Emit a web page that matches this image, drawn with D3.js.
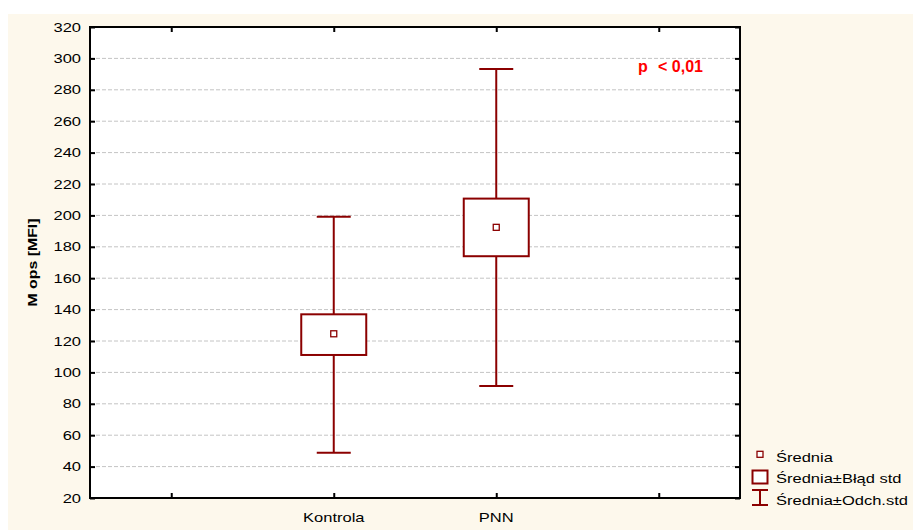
<!DOCTYPE html>
<html>
<head>
<meta charset="utf-8">
<script src="https://cdn.jsdelivr.net/npm/d3@7"></script>
<style>
  html, body { margin: 0; padding: 0; background: #ffffff; }
  svg { display: block; }
  text { font-family: Arial, "Liberation Sans", sans-serif; }
</style>
</head>
<body>
<svg id="chart" width="913" height="530"></svg>
<script>
// ---- data ----
const categories = ["Kontrola", "PNN"];
const xSlots = ["", "Kontrola", "PNN", " "];
const means = [124.6, 192.4];
const seLow = [111.1, 174.0];
const seHigh = [137.0, 210.7];
const sdLow = [48.9, 91.3];
const sdHigh = [199.2, 293.2];
const yTicks = [20, 40, 60, 80, 100, 120, 140, 160, 180, 200, 220, 240, 260, 280, 300, 320];
const yLabel = "M ops [MFI]";
const legendLabels = ["Średnia", "Średnia±Błąd std", "Średnia±Odch.std"];
const pText = ["p", "< 0,01"];

// ---- layout ----
const W = 913, H = 530;
const plot = { left: 90, right: 740, top: 27, bottom: 498 };
const dark = "#8b0000";
const SX = 1.27; // horizontal stretch of the original font

const svg = d3.select("#chart");

// backgrounds
svg.append("rect").attr("x", 0).attr("y", 0).attr("width", W).attr("height", H).attr("fill", "#ffffff");
svg.append("rect").attr("x", 8).attr("y", 14).attr("width", W - 8).attr("height", H - 14).attr("fill", "#fdf8ec");
svg.append("rect").attr("x", plot.left).attr("y", plot.top)
  .attr("width", plot.right - plot.left).attr("height", plot.bottom - plot.top).attr("fill", "#ffffff");

const x = d3.scalePoint().domain(xSlots).range([plot.left, plot.right]).padding(0.5);
const y = d3.scaleLinear().domain([20, 320]).range([plot.bottom, plot.top]);

function sText(parent, px, py, str, anchor, size, weight, fill, sx) {
  const g = parent.append("g").attr("transform", `translate(${px},${py}) scale(${sx || SX},1)`);
  return g.append("text").attr("x", 0).attr("y", 0)
    .attr("text-anchor", anchor).attr("font-size", size)
    .attr("font-weight", weight || "normal").attr("fill", fill || "#000").text(str);
}

// grid
svg.append("g").selectAll("line").data(yTicks.filter(v => v > 20 && v < 320)).join("line")
  .attr("x1", plot.left).attr("x2", plot.right)
  .attr("y1", d => y(d)).attr("y2", d => y(d))
  .attr("stroke", "#c4c4c4").attr("stroke-width", 1).attr("stroke-dasharray", "4,2");

// axes via d3 (inward ticks)
const tickLen = 5;
const axL = svg.append("g").attr("transform", `translate(${plot.left},0)`)
  .call(d3.axisLeft(y).tickValues(yTicks).tickSize(-tickLen).tickFormat(""));
const axR = svg.append("g").attr("transform", `translate(${plot.right},0)`)
  .call(d3.axisRight(y).tickValues(yTicks).tickSize(-tickLen).tickFormat(""));
const axB = svg.append("g").attr("transform", `translate(0,${plot.bottom})`)
  .call(d3.axisBottom(x).tickSize(-tickLen).tickFormat(""));
const axT = svg.append("g").attr("transform", `translate(0,${plot.top})`)
  .call(d3.axisTop(x).tickSize(-tickLen).tickFormat(""));
[axL, axR, axB, axT].forEach(a => {
  a.select(".domain").remove();
  a.selectAll(".tick line").attr("stroke", "#000").attr("stroke-width", 2);
});

// frame
svg.append("rect").attr("x", plot.left).attr("y", plot.top)
  .attr("width", plot.right - plot.left).attr("height", plot.bottom - plot.top)
  .attr("fill", "none").attr("stroke", "#000").attr("stroke-width", 2);

// y tick labels
yTicks.forEach(v => {
  sText(svg, 81, y(v) + 4.6, String(v), "end", 13);
});
// x tick labels
categories.forEach(c => {
  sText(svg, x(c), 522, c, "middle", 13);
});

// y axis title
svg.append("g").attr("transform", `translate(37,${(plot.top + plot.bottom) / 2}) rotate(-90) scale(1.22,1)`)
  .append("text").attr("text-anchor", "middle").attr("font-size", 13).attr("font-weight", "bold")
  .attr("fill", "#000").text(yLabel);

// boxes / whiskers
const boxW = 65, capW = 34, mk = 6;
const series = categories.map((c, i) => ({ c, m: means[i], l: seLow[i], h: seHigh[i], sl: sdLow[i], sh: sdHigh[i] }));
const gB = svg.append("g");
series.forEach(d => {
  const cx = x(d.c);
  // whiskers
  gB.append("line").attr("x1", cx).attr("x2", cx).attr("y1", y(d.sh)).attr("y2", y(d.h))
    .attr("stroke", dark).attr("stroke-width", 2);
  gB.append("line").attr("x1", cx).attr("x2", cx).attr("y1", y(d.l)).attr("y2", y(d.sl))
    .attr("stroke", dark).attr("stroke-width", 2);
  gB.append("line").attr("x1", cx - capW / 2).attr("x2", cx + capW / 2).attr("y1", y(d.sh)).attr("y2", y(d.sh))
    .attr("stroke", dark).attr("stroke-width", 2);
  gB.append("line").attr("x1", cx - capW / 2).attr("x2", cx + capW / 2).attr("y1", y(d.sl)).attr("y2", y(d.sl))
    .attr("stroke", dark).attr("stroke-width", 2);
  // box
  gB.append("rect").attr("x", cx - boxW / 2).attr("y", y(d.h))
    .attr("width", boxW).attr("height", y(d.l) - y(d.h))
    .attr("fill", "#fff").attr("stroke", dark).attr("stroke-width", 2);
  // mean
  gB.append("rect").attr("x", cx - mk / 2).attr("y", y(d.m) - mk / 2)
    .attr("width", mk).attr("height", mk)
    .attr("fill", "#fff").attr("stroke", dark).attr("stroke-width", 1.3);
});

// p annotation
const pt = svg.append("text").attr("font-size", 16).attr("font-weight", "bold").attr("fill", "#ff0000");
pt.append("tspan").attr("x", 638).attr("y", 72).text(pText[0] + " ");
pt.append("tspan").attr("x", 658).attr("y", 72).text(pText[1]);

// legend
const lg = svg.append("g");
const lx = 760;
lg.append("rect").attr("x", lx - 3).attr("y", 451.3).attr("width", 6).attr("height", 6)
  .attr("fill", "#fff").attr("stroke", dark).attr("stroke-width", 1.3);
lg.append("rect").attr("x", lx - 7.5).attr("y", 470.5).attr("width", 15).attr("height", 13)
  .attr("fill", "#fff").attr("stroke", dark).attr("stroke-width", 2);
lg.append("line").attr("x1", lx - 8).attr("x2", lx + 8).attr("y1", 490).attr("y2", 490).attr("stroke", dark).attr("stroke-width", 2);
lg.append("line").attr("x1", lx - 8).attr("x2", lx + 8).attr("y1", 505).attr("y2", 505).attr("stroke", dark).attr("stroke-width", 2);
lg.append("line").attr("x1", lx).attr("x2", lx).attr("y1", 490).attr("y2", 505).attr("stroke", dark).attr("stroke-width", 2);
const lys = [462, 483.3, 504.5];
legendLabels.forEach((t, i) => sText(lg, 776, lys[i], t, "start", 13));
</script>
</body>
</html>
